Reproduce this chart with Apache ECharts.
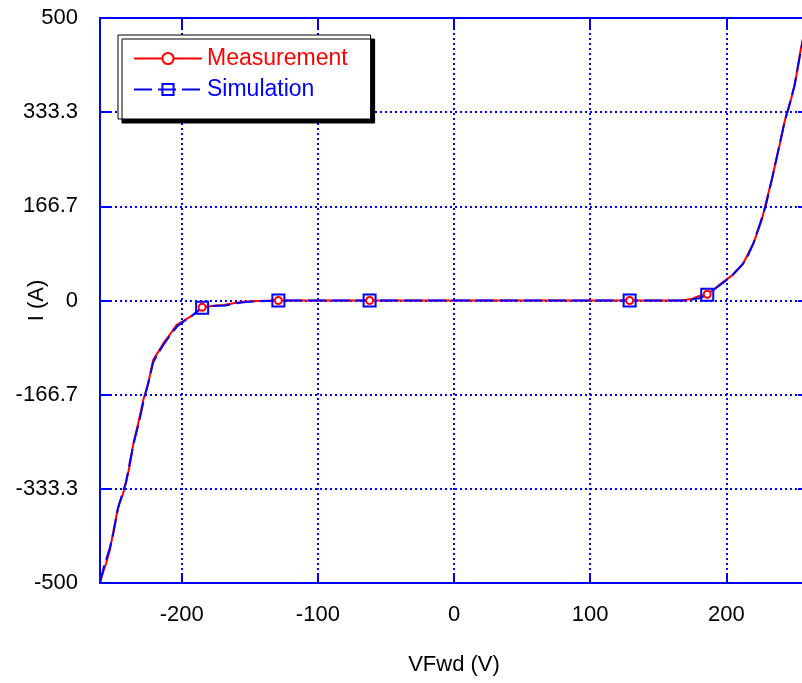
<!DOCTYPE html>
<html>
<head>
<meta charset="utf-8">
<script src="https://cdn.jsdelivr.net/npm/echarts@6/dist/echarts.min.js"></script>
<style>html,body{margin:0;padding:0;background:#fff}#c{width:802px;height:683px}</style>
</head>
<body>
<div id="c"></div>
<script>
// Data
var measV = [-260,-258.8,-255.5,-252.7,-249.5,-246.6,-243.5,-240.4,-238,-235.5,-232,-228.2,-224.5,-220.9,-217,-213.5,-208,-203.7,-198,-193.9,-189,-185,-175,-169,-160,-154.7,-145,-129,-62,0,129,167,175,179,186,192,197.8,204,212.5,215,219.9,226,228.4,233.3,239.4,243.1,246.8,250.5,254.1,255.6,259];
var measI = [-500,-489,-465,-441,-400,-365,-345,-318,-290,-253,-218,-176,-146,-105,-90,-76,-58,-43,-35,-29,-21,-12,-9,-8,-4,-2,-1,0,0,0,0,0,3,7,11,22,33,44,66,78,101,142,166,213,278,320,349,384,437,455,495];
var simV = [-260,-257,-253,-250,-247,-244,-241,-238,-235,-231,-228,-225,-221,-217,-213,-208,-203,-198,-193,-189,-185,-178,-168,-160,-150,-129,-62,0,129,170,180,186,193,198,205,212,216,220,225,229,234,239,243,247,250,254,256,259];
var simI = [-500,-470,-440,-410,-370,-345,-322,-285,-250,-212,-178,-150,-110,-92,-77,-60,-45,-36,-28,-20,-13,-10,-9,-5,-2,0,0,0,0,0,4,10,23,32,46,64,80,102,138,168,220,275,318,352,380,432,458,494];
var markerV = [-185,-129,-62,129,186];
var xTicks = [-200,-100,0,100,200];
var yTicks = [-500,-333.333,-166.667,0,166.667,333.333,500];

function buildData(vs, is) {
  return vs.map(function (v, k) {
    var d = { value: [v, is[k]] };
    if (markerV.indexOf(v) < 0) d.symbol = 'none';
    return d;
  });
}
function yFmt(v) {
  return Math.abs(v - Math.round(v)) < 1e-6 ? String(Math.round(v)) : v.toFixed(1);
}

var FONT = 'Liberation Sans';
var BLUE = '#0000ff';
var dotted = { color: BLUE, width: 2, type: [2, 3] };
var solidAxis = { show: true, onZero: false, lineStyle: { color: BLUE, width: 2 } };

var chart = echarts.init(document.getElementById('c'));
chart.setOption({
  animation: false,
  backgroundColor: '#fff',
  grid: { left: 100, top: 18, right: -6, bottom: 100, containLabel: false, outerBoundsMode: 'none' },
  legend: {
    left: 118, top: 35,
    orient: 'vertical',
    backgroundColor: '#fff',
    borderColor: '#000', borderWidth: 1,
    shadowColor: '#000', shadowOffsetX: 4, shadowOffsetY: 4, shadowBlur: 0.01,
    padding: [12, 23, 18, 15],
    itemWidth: 68, itemHeight: 14, itemGap: 8,
    textStyle: { fontFamily: FONT, fontSize: 23 },
    data: [
      { name: 'Measurement', textStyle: { color: '#ff0000' } },
      { name: 'Simulation', textStyle: { color: BLUE } }
    ]
  },
  xAxis: [{
    type: 'value', min: -260, max: 260, position: 'bottom',
    name: 'VFwd (V)', nameLocation: 'middle', nameGap: 71, nameMoveOverlap: false,
    nameTextStyle: { fontFamily: FONT, fontSize: 22, color: '#000' },
    axisLine: solidAxis,
    axisTick: { show: true, inside: true, length: 10, customValues: xTicks, lineStyle: { color: BLUE, width: 2 } },
    axisLabel: { customValues: xTicks, margin: 21, fontFamily: FONT, fontSize: 22, color: '#000' },
    splitLine: { show: true, lineStyle: dotted }
  }, {
    type: 'value', min: -260, max: 260, position: 'top',
    axisLine: solidAxis,
    axisTick: { show: true, inside: true, length: 10, customValues: xTicks, lineStyle: { color: BLUE, width: 2 } },
    axisLabel: { show: false },
    splitLine: { show: false }
  }],
  yAxis: [{
    type: 'value', min: -500, max: 500, position: 'left',
    name: 'I (A)', nameLocation: 'middle', nameGap: 52, nameRotate: 90, nameMoveOverlap: false,
    nameTextStyle: { fontFamily: FONT, fontSize: 22, color: '#000' },
    axisLine: solidAxis,
    axisTick: { show: true, inside: true, length: 10, customValues: yTicks, lineStyle: { color: BLUE, width: 2 } },
    axisLabel: { customValues: yTicks, margin: 22, fontFamily: FONT, fontSize: 22, color: '#000', formatter: yFmt },
    splitLine: { show: true, lineStyle: dotted }
  }, {
    type: 'value', min: -500, max: 500, position: 'right',
    axisLine: solidAxis,
    axisTick: { show: true, inside: true, length: 10, customValues: yTicks, lineStyle: { color: BLUE, width: 2 } },
    axisLabel: { show: false },
    splitLine: { show: false }
  }],
  series: [{
    name: 'Measurement', type: 'line', xAxisIndex: 0, yAxisIndex: 0,
    data: buildData(measV, measI),
    symbol: 'emptyCircle', symbolSize: 7,
    lineStyle: { color: '#ff0000', width: 2 },
    itemStyle: { color: '#ff0000', borderColor: '#ff0000', borderWidth: 2 },
    emphasis: { disabled: true }
  }, {
    name: 'Simulation', type: 'line', xAxisIndex: 0, yAxisIndex: 0,
    data: buildData(simV, simI),
    symbol: 'rect', symbolSize: 12,
    lineStyle: { color: BLUE, width: 2, type: [18, 6] },
    itemStyle: { color: 'rgba(0,0,0,0)', borderColor: BLUE, borderWidth: 2 },
    emphasis: { disabled: true }
  }]
});
</script>
</body>
</html>
